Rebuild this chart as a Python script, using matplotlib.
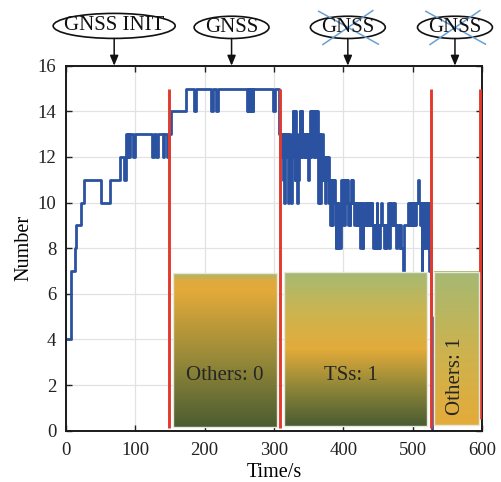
import numpy as np
import matplotlib
matplotlib.use("Agg")
import matplotlib.pyplot as plt
from matplotlib.colors import LinearSegmentedColormap
from matplotlib.patches import Ellipse, Rectangle
from matplotlib.transforms import blended_transform_factory

plt.rcParams['font.family'] = ['Liberation Serif', 'DejaVu Serif']

# Number of tracked sources over time: change instants (s) and the new count
init_t = [0, 7, 13, 15, 21, 26, 50, 63, 78, 84, 86.5, 88, 89, 91, 93, 96, 100,
          124, 127, 130, 132, 140, 141, 145, 148]
init_n = [4, 7, 8, 9, 10, 11, 10, 11, 12, 11, 13, 12, 13, 12, 13, 12, 13,
          12, 13, 12, 13, 12, 13, 12, 13]

gnss_t = [152, 173, 184, 187, 209, 212, 216, 219, 261, 262, 263, 265, 266, 268,
          269, 270, 299, 301, 307]
gnss_n = [14, 15, 14, 15, 14, 15, 14, 15, 14, 15, 14, 15, 14, 15,
          14, 15, 14, 15, 13]

ts_t = [309, 310, 311, 312, 313, 314, 315, 316, 317, 318, 319, 320, 321, 322, 323,
        324, 325, 326, 327, 328, 329, 330, 331, 332, 333, 334, 335, 336, 337, 338,
        339, 340, 341, 342, 344, 345, 347, 348, 349, 350, 351, 352, 353, 354, 355,
        356, 357, 358, 359, 360, 361, 362, 363, 364, 365, 366, 367, 368, 369, 370,
        371, 372, 373, 374, 375, 376, 378, 379, 380, 381, 382, 383, 384, 385, 386,
        387, 388, 389, 390, 391, 392, 393, 394, 395, 396, 397, 398, 399, 400, 402,
        403, 404, 405, 406, 407, 408, 409, 410, 411, 412, 413, 414, 416, 417, 419,
        420, 421, 423, 424, 425, 426, 427, 428, 429, 430, 432, 433, 435, 436, 438,
        439, 441, 442, 443, 445, 446, 448, 449, 451, 452, 453, 455, 456, 458, 460,
        461, 463, 465, 466, 467, 468, 470, 471, 473, 474, 476, 478, 480, 482, 483,
        486, 488, 493, 494, 496, 497, 499, 500, 502, 504, 505, 508, 509, 511, 512,
        513, 514, 515, 516, 517, 518, 519, 520, 521, 522, 523, 524, 525]
ts_n = [12, 13, 12, 13, 11, 13, 10, 12, 13, 12, 13, 10, 12, 13, 11,
        12, 10, 13, 14, 12, 14, 11, 14, 13, 10, 12, 11, 13, 14, 12,
        13, 14, 12, 13, 12, 13, 12, 13, 11, 12, 13, 14, 12, 14, 13,
        14, 12, 14, 13, 14, 12, 14, 13, 10, 12, 13, 10, 12, 13, 11,
        12, 11, 12, 10, 12, 11, 12, 10, 11, 9, 11, 10, 9, 11, 10,
        11, 10, 8, 10, 9, 8, 10, 9, 8, 10, 11, 10, 11, 9, 11,
        10, 11, 10, 11, 9, 10, 9, 10, 11, 10, 11, 10, 9, 10, 9,
        10, 9, 10, 8, 9, 10, 9, 8, 10, 9, 10, 9, 10, 9, 10,
        9, 10, 9, 8, 9, 8, 10, 8, 9, 8, 9, 10, 9, 8, 9,
        8, 9, 10, 8, 10, 9, 10, 9, 10, 9, 8, 9, 8, 9, 8,
        7, 9, 10, 9, 10, 9, 10, 9, 10, 9, 10, 11, 10, 9, 10,
        7, 9, 10, 8, 9, 10, 8, 9, 10, 8, 10, 7, 9]

end_t = [526, 528.5, 568]
end_n = [5, 0, 0]

# Phase boundaries (s) with their vertical extent
bound_t = [149, 309, 526, 597]
bound_lo = [0.1, 0.1, 0.1, 0.5]
bound_hi = [15, 15, 15, 15]

# Phase boxes: start, end, bottom, top, label, colour stops (bottom -> top)
box_x0 = [154, 315, 531]
box_x1 = [305, 521, 595]
box_y0 = [0.15, 0.2, 0.25]
box_y1 = [6.9, 6.95, 6.97]
box_label = ['Others: 0', 'TSs: 1', 'Others: 1']
box_label_rot = [0, 0, 90]
box_label_x = [229.5, 410.5, 562.5]
box_colors = [
    [(0.0, '#4b5c31'), (0.45, '#988a39'), (0.88, '#e2a93a'), (0.95, '#e0aa3d'), (1.0, '#a9b66c')],
    [(0.0, '#4a5c32'), (0.25, '#8e8638'), (0.5, '#e3ab3a'), (0.75, '#cbb551'), (1.0, '#a5b973')],
    [(0.0, '#e4ab3a'), (0.5, '#cbb350'), (1.0, '#a5b973')],
]

# Status callouts above the plot
call_label = ['GNSS INIT', 'GNSS', 'GNSS', 'GNSS']
call_t = [69.5, 238.8, 406.5, 561]
call_w = [176, 108, 108, 108]
call_crossed = [False, False, True, True]

t = np.array(init_t + gnss_t + ts_t + end_t, dtype=float)
n = np.array(init_n + gnss_n + ts_n + end_n, dtype=float)

fig = plt.figure(figsize=(5.02, 4.82), dpi=100)
ax = fig.add_axes([66 / 502, 1 - 430.7 / 482, 416 / 502, 365 / 482])

ax.grid(True, color='#e2e2e2', lw=0.9, zorder=0)
ax.set_axisbelow(True)

ax.step(t, n, where='post', color='#2a52a0', lw=2.0, zorder=2)

for bx, lo, hi in zip(bound_t, bound_lo, bound_hi):
    ax.plot([bx, bx], [lo, hi], color='#e23b2e', lw=2.1, zorder=3,
            solid_capstyle='butt')

grad = np.linspace(0, 1, 256).reshape(-1, 1)
for x0, x1, y0, y1, lab, rot, lx, stops in zip(box_x0, box_x1, box_y0, box_y1,
                                                box_label, box_label_rot,
                                                box_label_x, box_colors):
    cmap = LinearSegmentedColormap.from_list('phase', stops)
    ax.imshow(grad, extent=(x0, x1, y0, y1), origin='lower', aspect='auto',
              cmap=cmap, zorder=4, interpolation='bilinear')
    ax.add_patch(Rectangle((x0, y0), x1 - x0, y1 - y0, fill=False,
                           ec='#e6e9dc', lw=1.0, zorder=5))
    ax.text(lx, 2.4, lab, rotation=rot, ha='center', va='center',
            fontsize=15, color='#262626', zorder=6)

ax.set_xlim(0, 600)
ax.set_ylim(0, 16)
ax.set_xticks(np.arange(0, 601, 100))
ax.set_yticks(np.arange(0, 17, 2))
ax.tick_params(direction='in', length=4, width=1.0, labelsize=13.5,
               top=True, right=True, colors='#222222')
ax.tick_params(axis='x', pad=8)
ax.tick_params(axis='y', pad=7)
for s in ax.spines.values():
    s.set_linewidth(1.4)
    s.set_color('#1a1a1a')
ax.set_xlabel('Time/s', fontsize=14.5, labelpad=3)
ax.set_ylabel('Number', fontsize=14.5, labelpad=3)

trans = blended_transform_factory(ax.transData, ax.transAxes)
for lab, ct, cw, crossed in zip(call_label, call_t, call_w, call_crossed):
    big = lab != 'GNSS'
    yc = 1.109 if big else 1.105
    h = 0.0685 if big else 0.061
    ax.add_patch(Ellipse((ct, yc), cw, h, transform=trans, fill=False,
                         ec='#111111', lw=1.2, clip_on=False))
    ax.text(ct, yc, lab, transform=trans, ha='center', va='center',
            fontsize=15, color='#111111', clip_on=False)
    ax.annotate('', xy=(ct, 1.0), xycoords=trans,
                xytext=(ct, yc - h / 2), textcoords=trans,
                arrowprops=dict(arrowstyle='-|>,head_length=0.6,head_width=0.25',
                                color='#111111', lw=1.1, shrinkA=0, shrinkB=0))
    if crossed:
        ax.plot([ct - 42, ct + 44], [1.149, 1.059], transform=trans,
                color='#6b9fd1', lw=1.1, clip_on=False)
        ax.plot([ct + 36, ct - 36], [1.151, 1.058], transform=trans,
                color='#6b9fd1', lw=1.1, clip_on=False)

fig.savefig('out.png', dpi=100)
